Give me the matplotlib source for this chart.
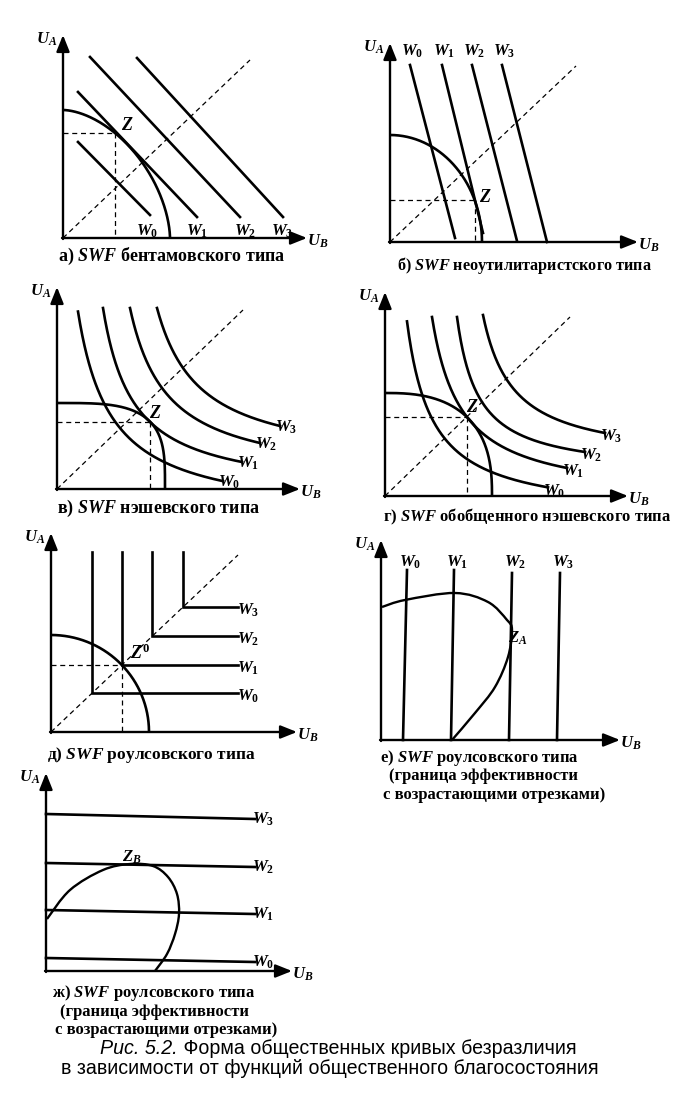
import numpy as np
import matplotlib
matplotlib.use('Agg')
import matplotlib.pyplot as plt
from matplotlib.path import Path
from matplotlib.patches import PathPatch
from matplotlib.text import Annotation

plt.rcParams['font.family'] = ['Liberation Serif', 'DejaVu Serif']
plt.rcParams['font.weight'] = 'bold'
plt.rcParams['mathtext.fontset'] = 'custom'
plt.rcParams['mathtext.it'] = 'Liberation Serif:italic:bold'
plt.rcParams['mathtext.rm'] = 'Liberation Serif:bold'
plt.rcParams['mathtext.bf'] = 'Liberation Serif:bold'

W_PX, H_PX = 696, 1100

# ---------------- data (panel units = pixels from origin)
# а) Bentham: straight lines
a_w_x0 = [15, 15, 27, 74]
a_w_y0 = [96, 146, 181, 180]
a_w_x1 = [87, 134, 177, 220]
a_w_y1 = [23, 21, 21, 21]
a_front = (107, 128, 1.72)      # frontier: u-intercept, v-intercept, exponent
a_z = (52, 105)
a_diag = (187, 178)

# б) neo-utilitarian: steep lines
b_w_x0 = [20, 52, 82, 112]
b_w_y0 = [177, 177, 177, 177]
b_w_x1 = [65, 93, 127, 157]
b_w_y1 = [4, 9, 1, 0]
b_front = (92, 107, 2.0)
b_z = (85, 42)
b_diag = (186, 176)

# в) Nash: points on each indifference curve
c_w_pts = [
    [(21, 177), (50, 81), (106, 27), (166, 8)],
    [(46, 181), (93, 67), (185, 27)],
    [(73, 181), (105, 101), (203, 46)],
    [(100, 181), (126, 121), (223, 63)],
]
c_front = (108, 86, 3.6)
c_z = (93, 67)
c_diag = (186, 179)

# г) generalised Nash
d_w_pts = [
    [(22, 178), (35, 103), (102, 28), (163, 8)],
    [(47, 179), (82, 79), (182, 28)],
    [(72, 179), (97, 94), (200, 44)],
    [(98, 181), (122, 116), (220, 63)],
]
d_front = (107, 103, 2.6)
d_z = (82, 79)
d_diag = (185, 179)

# д) Rawls: L-shaped curves
e_corner_x = [41, 71, 101, 132]
e_corner_y = [39, 67, 96, 125]
e_top = 180
e_right = 187
e_front = (98, 97, 2.0)
e_diag = (187, 177)

# е) Rawls, frontier with rising segments: vertical lines
f_top_x = [26, 73, 131, 179]
f_top_y = [170, 170, 167, 167]
f_bot_x = [22, 70, 128, 176]
f_front_pts = [(1, 133), (24, 140), (74, 147), (107, 138), (126, 120), (131, 110),
               (127, 83), (114, 53), (94, 27), (71, 0)]

# ж) Rawls, horizontal lines
g_right_x = 209
g_left_y = [13, 61, 108, 157]
g_right_y = [9, 57, 104, 152]
g_front_pts = [(1, 52), (24, 81), (57, 101), (84, 107), (107, 105), (122, 94),
               (131, 77), (133, 57), (129, 37), (121, 17), (109, 0)]

w_names = [r'$W_0$', r'$W_1$', r'$W_2$', r'$W_3$']

fig = plt.figure(figsize=(W_PX / 100, H_PX / 100), dpi=100)

LW = 1.9
DASH = dict(color='k', lw=0.9, dashes=(4, 3))


def panel(ox, oy, xend, ytop, pad=40):
    x0, x1 = -pad, xend + pad
    y0, y1 = -pad, ytop + pad
    ax = fig.add_axes([(ox + x0) / W_PX, 1 - (oy - y0) / H_PX,
                       (x1 - x0) / W_PX, (y1 - y0) / H_PX])
    ax.set_xlim(x0, x1)
    ax.set_ylim(y0, y1)
    ax.axis('off')
    ap = dict(arrowstyle='-|>,head_length=0.55,head_width=0.22', color='k', lw=1.7,
              mutation_scale=18, shrinkA=0, shrinkB=0)
    ax.annotate('', xy=(xend, 0), xytext=(-1, 0), arrowprops=ap)
    ax.annotate('', xy=(0, ytop), xytext=(0, -1), arrowprops=ap)
    ax.text(-16, ytop - 4, r'$U_A$', fontsize=12, ha='center', va='center')
    ax.text(xend + 11, -3, r'$U_B$', fontsize=12, ha='center', va='center')
    return ax


def frontier(ax, spec, lw=LW):
    a, b, n = spec
    th = np.linspace(np.pi / 2, 0, 200)
    u = a * np.cos(th) ** (2 / n)
    v = b * np.sin(th) ** (2 / n)
    ax.plot(u, v, color='k', lw=lw, solid_capstyle='butt')


def dashes_to(ax, z):
    ax.plot([0, z[0]], [z[1], z[1]], **DASH)
    ax.plot([z[0], z[0]], [z[1], 0], **DASH)


def diag(ax, end):
    ax.plot([0, end[0]], [0, end[1]], **DASH)


def hyperbola(ax, pts):
    p = np.asarray(pts, float)
    u, v = p[:, 0], p[:, 1]
    A = np.column_stack([v, u, np.ones_like(u)])
    (a, b, c), *_ = np.linalg.lstsq(A, u * v, rcond=None)
    k = c + a * b
    uu = np.linspace(u[0], u[-1], 200)
    ax.plot(uu, b + k / (uu - a), color='k', lw=LW)


def smooth_path(pts):
    p = np.asarray(pts, float)
    ext = np.vstack([p[0], p, p[-1]])
    verts = [p[0]]
    codes = [Path.MOVETO]
    for i in range(1, len(ext) - 2):
        p0, p1, p2, p3 = ext[i - 1], ext[i], ext[i + 1], ext[i + 2]
        verts += [p1 + (p2 - p0) / 6, p2 - (p3 - p1) / 6, p2]
        codes += [Path.CURVE4] * 3
    return Path(verts, codes)


def caption(x, y, lines, dx=None, size=12.5):
    for i, line in enumerate(lines):
        xx = x if dx is None else x + dx[i]
        fig.text(xx / W_PX, 1 - (y + i * 18.5) / H_PX, line, fontsize=size,
                 ha='left', va='center')


# ---------------- а)
ax = panel(63, 238, 244, 203)
diag(ax, a_diag)
dashes_to(ax, a_z)
for i in range(4):
    ax.plot([a_w_x0[i], a_w_x1[i]], [a_w_y0[i], a_w_y1[i]], color='k', lw=LW)
    ax.text(a_w_x1[i] - 3 + [0, 3, 8, 2][i], 7, w_names[i], fontsize=12, ha='center', va='center')
frontier(ax, a_front)
ax.text(a_z[0] + 12, a_z[1] + 8, '$Z$', fontsize=13, ha='center', va='center')
caption(58, 256, [r'а) $SWF$ бентамовского типа'], size=13)

# ---------------- б)
ax = panel(390, 242, 248, 199)
diag(ax, b_diag)
dashes_to(ax, b_z)
for i in range(4):
    ax.plot([b_w_x0[i], b_w_x1[i]], [b_w_y0[i], b_w_y1[i]], color='k', lw=LW)
    ax.text(b_w_x0[i] + 2, 191, w_names[i], fontsize=12, ha='center', va='center')
frontier(ax, b_front)
ax.text(b_z[0] + 10, b_z[1] + 2, '$Z$', fontsize=13, ha='center', va='center')
caption(397, 265, [r'б) $SWF$ неоутилитаристского типа'], size=11.7)

# ---------------- в)
ax = panel(57, 489, 243, 202)
diag(ax, c_diag)
dashes_to(ax, c_z)
for i, pts in enumerate(c_w_pts):
    hyperbola(ax, pts)
    ax.text(pts[-1][0] + 6, pts[-1][1] - 1, w_names[i], fontsize=12, ha='center', va='center')
frontier(ax, c_front)
ax.text(c_z[0] + 5, c_z[1] + 9, '$Z$', fontsize=13, ha='center', va='center')
caption(57, 508, [r'в) $SWF$ нэшевского типа'], size=13)

# ---------------- г)
ax = panel(385, 496, 243, 204)
diag(ax, d_diag)
dashes_to(ax, d_z)
for i, pts in enumerate(d_w_pts):
    hyperbola(ax, pts)
    ax.text(pts[-1][0] + 6, pts[-1][1] - 3, w_names[i], fontsize=12, ha='center', va='center')
frontier(ax, d_front)
ax.text(d_z[0] + 5, d_z[1] + 10, '$Z$', fontsize=13, ha='center', va='center')
caption(383, 517, [r'г) $SWF$ обобщенного нэшевского типа'], size=12)

# ---------------- д)
ax = panel(51, 732, 246, 199)
diag(ax, e_diag)
dashes_to(ax, (e_corner_x[1], e_corner_y[1]))
for i in range(4):
    cx, cy = e_corner_x[i], e_corner_y[i]
    ax.plot([cx, cx, e_right], [e_top, cy, cy], color='k', lw=LW, solid_joinstyle='miter')
    ax.text(e_right + 10, cy - 3, w_names[i], fontsize=12, ha='center', va='center')
frontier(ax, e_front)
ax.text(e_corner_x[1] + 18, e_corner_y[1] + 12, r'$Z^0$', fontsize=13, ha='center', va='center')
caption(47, 755, [r'д) $SWF$ роулсовского типа'])

# ---------------- е)
ax = panel(381, 740, 239, 200)
for i in range(4):
    ax.plot([f_bot_x[i], f_top_x[i]], [0, f_top_y[i]], color='k', lw=LW)
    ax.text(f_top_x[i] + 3, 178, w_names[i], fontsize=12, ha='center', va='center')
ax.add_patch(PathPatch(smooth_path(f_front_pts), fill=False, lw=1.7, color='k'))
ax.text(137, 102, r'$Z_A$', fontsize=12, ha='center', va='center')
caption(380, 758, [r'е) $SWF$ роулсовского типа', '(граница эффективности',
                   'с возрастающими отрезками)'], dx=[0, 9, 3], size=12)

# ---------------- ж)
ax = panel(46, 971, 246, 198)
for i in range(4):
    ax.plot([0, g_right_x], [g_left_y[i], g_right_y[i]], color='k', lw=LW)
    ax.text(g_right_x + 8, g_right_y[i], w_names[i], fontsize=12, ha='center', va='center')
ax.add_patch(PathPatch(smooth_path(g_front_pts), fill=False, lw=1.7, color='k'))
ax.text(86, 114, r'$Z_B$', fontsize=12, ha='center', va='center')
caption(52, 993, [r'ж) $SWF$ роулсовского типа', '(граница эффективности',
                  'с возрастающими отрезками)'], dx=[0, 8, 3], size=12)

# ---------------- figure caption
CAP = dict(fontsize=14.1, family='Liberation Sans', weight='normal')
t1 = fig.text(100 / W_PX, 1 - 1049 / H_PX, 'Рис. 5.2.', style='italic',
              ha='left', va='center', **CAP)
fig.add_artist(Annotation(' Форма общественных кривых безразличия', xy=(1, 0),
                          xycoords=t1, ha='left', va='bottom', **CAP))
fig.text(61 / W_PX, 1 - 1069 / H_PX, 'в зависимости от функций общественного благосостояния',
         ha='left', va='center', **CAP)

fig.savefig('out.png', dpi=100)
